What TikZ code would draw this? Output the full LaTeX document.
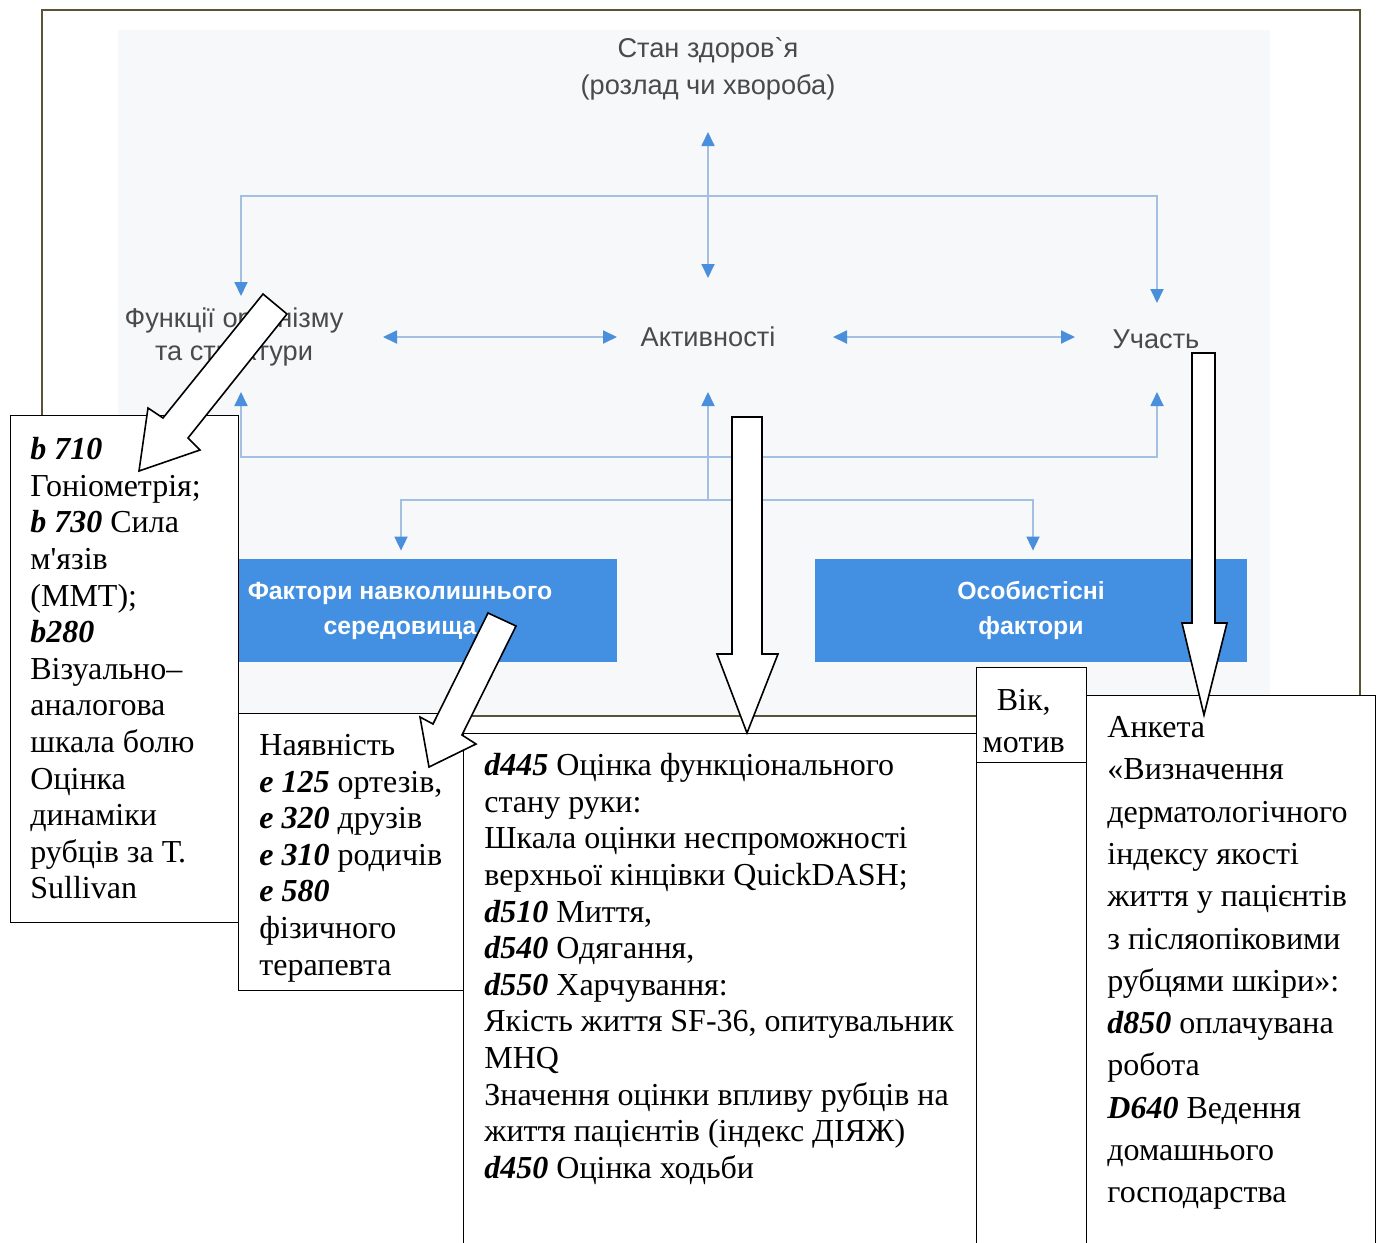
\documentclass[tikz,border=0pt]{standalone}
\usepackage{fontspec}
\setmainfont{Liberation Serif}
\newfontfamily\diagfont{Liberation Sans}
\usetikzlibrary{arrows.meta,calc,positioning}
\definecolor{FrameOlive}{HTML}{5A5337}
\definecolor{PaperGray}{HTML}{F7F8FA}
\definecolor{LinkBlue}{HTML}{A3C0E3}
\definecolor{TipBlue}{HTML}{4A8FDB}
\definecolor{BoxBlue}{HTML}{4390E3}
\definecolor{TermGray}{HTML}{4A4A4A}
\newcommand{\code}[1]{\textbf{\textit{#1}}}
\tikzset{
  icflink/.style={draw=LinkBlue,line width=0.9pt,
    >={Triangle[length=7pt,width=6.5pt,color=TipBlue]}},
  icfterm/.style={font=\diagfont\fontsize{13.6}{18.5}\selectfont,
    text=TermGray,align=center,inner sep=0pt},
  icfbox/.style={fill=BoxBlue,text=white,align=center,inner sep=0pt,
    font=\diagfont\bfseries\fontsize{12.4}{17.5}\selectfont,minimum height=51.5pt},
  notebox/.style={draw=black,fill=white,line width=0.7pt,inner sep=0pt,anchor=north west},
  notetext/.style={font=\fontsize{16}{18.3}\selectfont,align=left,inner sep=0pt,anchor=north west},
  hollowarrow/.style={draw=black,fill=white,line width=0.8pt,line join=miter}
}
\begin{document}
\begin{tikzpicture}[x=0.5pt,y=-0.5pt]
  \useasboundingbox (0,0) rectangle (1378,1243);
  % framed ICF scheme
  \fill[PaperGray] (118,30) rectangle (1270,716);
  \draw[FrameOlive,line width=1pt] (42,10) rectangle (1360,716);

  \node[icfterm] (health) at (708,69) {Стан здоров\textasciigrave я\\(розлад чи хвороба)};
  \node[icfterm,font=\diagfont\fontsize{13.6}{16.5}\selectfont] (func) at (234,337) {Функції організму\\та структури};
  \node[icfterm] (act) at (708,337) {Активності};
  \node[icfterm] (part) at (1156,339) {Участь};
  \node[icfbox,minimum width=217pt] (env) at (400,610.5) {Фактори навколишнього\\середовища};
  \node[icfbox,minimum width=216pt] (pers) at (1031,610.5) {Особистісні\\фактори};

  \draw[icflink,<->] ($(health)+(0,63)$) -- ($(act)+(0,-59)$);
  \draw[icflink,<->] ($(func)+(7,-41)$) -- ++(0,-100) -| ($(part)+(1,-36)$);
  \draw[icflink,<->] ($(func)+(149,0)$) -- ($(act)+(-91,0)$);
  \draw[icflink,<->] ($(act)+(125,0)$) -- ($(part)+(-81,-2)$);
  \draw[icflink,<->] ($(func)+(7,55)$) -- ++(0,65) -| ($(part)+(1,53)$);
  \draw[icflink,->] ($(act)+(0,163)$) -- ($(act)+(0,55)$);
  \draw[icflink,<->] ($(env.north)+(1,-8)$) |- ($(act)+(0,163)$) -| ($(pers.north)+(2,-8)$);

  % note boxes
  \node[notebox,minimum width=114pt,minimum height=253.5pt] (bodybox) at (10,415) {};
  \node[notebox,minimum width=112.5pt,minimum height=138.5pt] (envbox) at (238,713) {};
  \node[notebox,minimum width=256.5pt,minimum height=265pt] (actbox) at (463,733) {};
  \node[notebox,minimum width=55pt,minimum height=47.5pt] (agebox) at (976,667) {};
  \node[notebox,minimum width=55pt,minimum height=250pt] (agelow) at (976,762) {};
  \node[notebox,minimum width=144.5pt,minimum height=285pt] (partbox) at (1086,695) {};

  \node[notetext] (bodytext) at ([shift={(20,22)}]bodybox.north west) {\code{b 710}\\
    Гоніометрія;\\
    \code{b 730} Сила\\
    м\textquotesingle язів\\
    (ММТ);\\
    \code{b280}\\
    Візуально–\\
    аналогова\\
    шкала болю\\
    Оцінка\\
    динаміки\\
    рубців за Т.\\
    Sullivan};
  \node[notetext] (envtext) at ([shift={(21,21)}]envbox.north west) {Наявність\\
    \code{e 125} ортезів,\\
    \code{e 320} друзів\\
    \code{e 310} родичів\\
    \code{e 580}\\
    фізичного\\
    терапевта};
  \node[notetext] (acttext) at ([shift={(21,20)}]actbox.north west) {\code{d445} Оцінка функціонального\\
    стану руки:\\
    Шкала оцінки неспроможності\\
    верхньої кінцівки QuickDASH;\\
    \code{d510} Миття,\\
    \code{d540} Одягання,\\
    \code{d550} Харчування:\\
    Якість життя SF-36, опитувальник\\
    MHQ\\
    Значення оцінки впливу рубців на\\
    життя пацієнтів (індекс ДІЯЖ)\\
    \code{d450} Оцінка ходьби};
  \node[notetext,anchor=north,align=center,font=\fontsize{16}{21}\selectfont] (agetext)
    at ([shift={(-8,22)}]agebox.north) {Вік,\\мотив};
  \node[notetext,font=\fontsize{16}{21.15}\selectfont] (parttext) at ([shift={(21,21)}]partbox.north west) {Анкета\\
    «Визначення\\
    дерматологічного\\
    індексу якості\\
    життя у пацієнтів\\
    з післяопіковими\\
    рубцями шкіри»:\\
    \code{d850} оплачувана\\
    робота\\
    \code{D640} Ведення\\
    домашнього\\
    господарства};

  % hollow arrows
  \draw[hollowarrow] (263,294) -- (287,314) -- (188,438) -- (200,450) -- (139,471) -- (148,408) -- (163,418) -- cycle;
  \draw[hollowarrow] (488,613) -- (516,626) -- (462,735) -- (476,744) -- (429,767) -- (420,717) -- (433,724) -- cycle;
  \draw[hollowarrow] (732,417) -- (762,417) -- (762,654) -- (778,654) -- (747,733) -- (717,654) -- (732,654) -- cycle;
  \draw[hollowarrow] (1192,353) -- (1215,353) -- (1215,623) -- (1227,623) -- (1204,715) -- (1182,623) -- (1192,623) -- cycle;
\end{tikzpicture}
\end{document}
